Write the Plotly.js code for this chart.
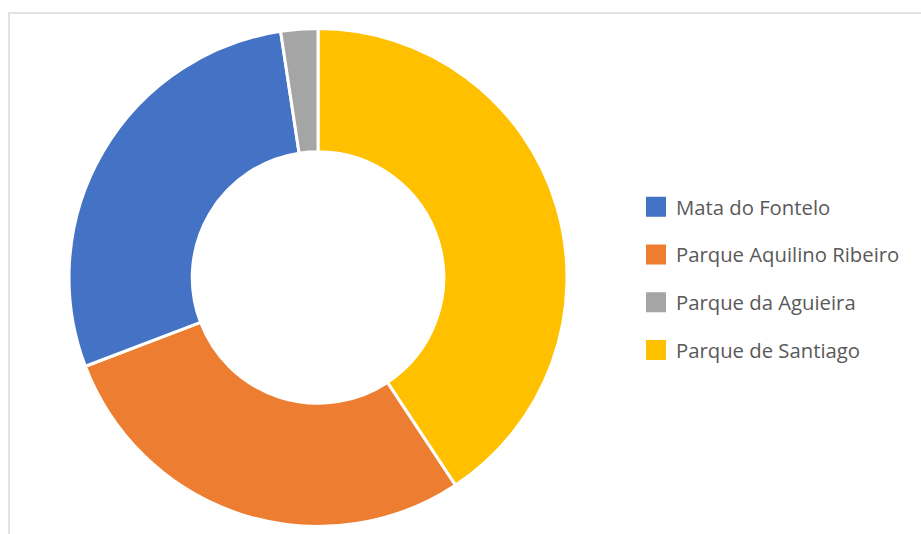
<!DOCTYPE html>
<html>
<head>
<meta charset="utf-8">
<script src="https://cdn.plot.ly/plotly-3.0.1.min.js"></script>
<style>html,body{margin:0;padding:0;background:#fff}#chart{width:921px;height:534px}</style>
</head>
<body>
<div id="chart"></div>
<script>
// Slice order as drawn clockwise from 12 o'clock
const sliceLabels = ["Parque de Santiago", "Parque Aquilino Ribeiro", "Mata do Fontelo", "Parque da Aguieira"];
const sliceValues = [40.7, 28.5, 28.4, 2.4];
// Legend order
const legendLabels = ["Mata do Fontelo", "Parque Aquilino Ribeiro", "Parque da Aguieira", "Parque de Santiago"];
const colorMap = {
  "Mata do Fontelo": "#4472C4",
  "Parque Aquilino Ribeiro": "#ED7D31",
  "Parque da Aguieira": "#A5A5A5",
  "Parque de Santiago": "#FFC000"
};

const W = 921, H = 534;
const cx = 318, cy = 277.5, R = 249;

const traces = [{
  type: "pie",
  labels: sliceLabels,
  values: sliceValues,
  sort: false,
  direction: "clockwise",
  rotation: 0,
  hole: 0.505,
  textinfo: "none",
  hoverinfo: "label+value",
  showlegend: false,
  marker: { colors: sliceLabels.map(l => colorMap[l]), line: { color: "#ffffff", width: 3 } },
  domain: { x: [(cx - R) / W, (cx + R) / W], y: [1 - (cy + R) / H, 1 - (cy - R) / H] }
}];

legendLabels.forEach((l, i) => {
  traces.push({
    type: "scatter",
    mode: "markers",
    x: [null], y: [null],
    name: l,
    legendgroup: "g" + i,
    marker: { symbol: "square", size: 16, color: colorMap[l], line: { color: colorMap[l], width: 4 } },
    hoverinfo: "skip",
    showlegend: true
  });
});

const layout = {
  width: W, height: H,
  margin: { l: 0, r: 0, t: 0, b: 0 },
  paper_bgcolor: "#ffffff",
  plot_bgcolor: "rgba(0,0,0,0)",
  xaxis: { visible: false },
  yaxis: { visible: false },
  showlegend: true,
  legend: {
    x: 636 / W, xanchor: "left",
    y: 1 - 187 / H, yanchor: "top",
    font: { family: "Open Sans, Noto Sans, sans-serif", size: 20.3, color: "#595959" },
    tracegroupgap: 18.4,
    bgcolor: "rgba(0,0,0,0)"
  },
  shapes: [{
    type: "rect", xref: "paper", yref: "paper",
    x0: 9 / W, x1: 1.05, y0: -0.05, y1: 1 - 13 / H,
    line: { color: "#d9d9d9", width: 1.5 }, fillcolor: "rgba(0,0,0,0)", layer: "below"
  }]
};

Plotly.newPlot("chart", traces, layout, { displayModeBar: false, staticPlot: true });
</script>
</body>
</html>
